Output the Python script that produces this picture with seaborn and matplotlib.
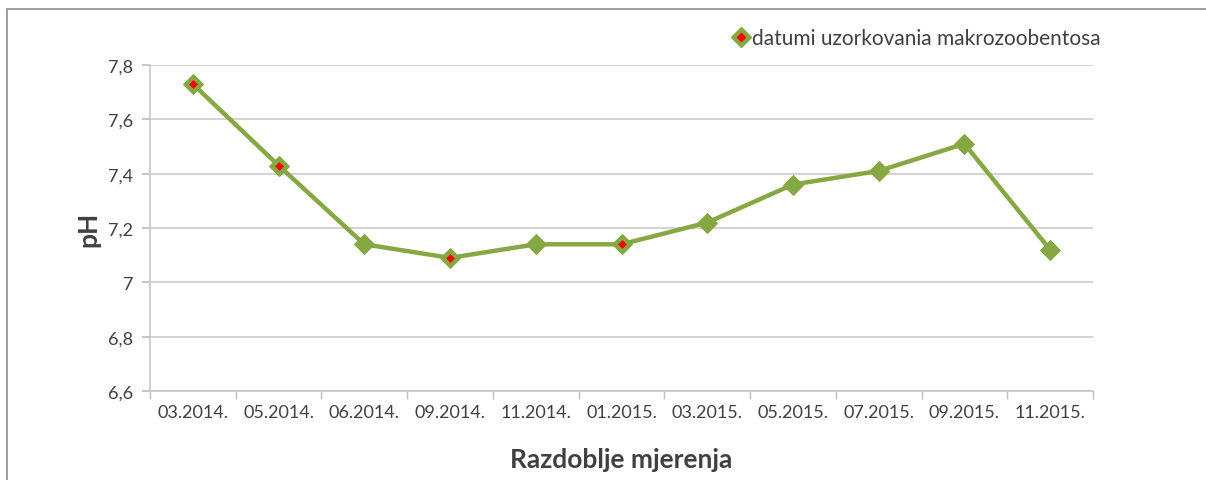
import matplotlib
matplotlib.use('Agg')
import matplotlib.pyplot as plt
import seaborn as sns
import pandas as pd
from matplotlib.patches import Rectangle
from matplotlib.lines import Line2D

# datumi mjerenja i pH vrijednosti
datumi = ['03.2014.', '05.2014.', '06.2014.', '09.2014.', '11.2014.', '01.2015.',
          '03.2015.', '05.2015.', '07.2015.', '09.2015.', '11.2015.']
ph = [7.73, 7.43, 7.14, 7.09, 7.14, 7.14, 7.22, 7.36, 7.41, 7.51, 7.12]
# indeksi datuma uzorkovanja makrozoobentosa (crvena tocka)
uzorkovanje = [0, 1, 3, 5]

sns.set_theme(style='white')
plt.rcParams['font.family'] = ['Lato', 'DejaVu Sans']

zelena = '#86a843'
tekst = '#404040'

df = pd.DataFrame({'datum': datumi, 'ph': ph})
df['x'] = range(len(df))

fig = plt.figure(figsize=(12.06, 4.81), dpi=100)
ax = fig.add_axes([150/1206, 1-392/481, (1093-150)/1206, (392-66)/481])

# okvir grafikona
fig.patches.append(Rectangle((7/1206, -0.1), 1.2, 1-10/481+0.1, transform=fig.transFigure,
                             fill=False, edgecolor='#8c8c8c', linewidth=1.2))

sns.lineplot(data=df, x='x', y='ph', ax=ax, color=zelena, linewidth=3.2,
             marker='D', markersize=10, markeredgecolor=zelena, markerfacecolor=zelena,
             zorder=3)
uz = df.iloc[uzorkovanje]
sns.scatterplot(data=uz, x='x', y='ph', ax=ax, color='red', marker='D', s=20,
                linewidth=0, zorder=4)

ax.set_xlim(-0.5, len(datumi) - 0.5)
ax.set_ylim(6.6, 7.8)
ax.set_yticks([6.6, 6.8, 7.0, 7.2, 7.4, 7.6, 7.8])
ax.set_yticklabels(['6,6', '6,8', '7', '7,2', '7,4', '7,6', '7,8'])
ax.set_xticks(df['x'])
ax.set_xticklabels(datumi)
ax.set_xticks([i - 0.5 for i in range(len(datumi) + 1)], minor=True)
ax.grid(axis='y', color='#d0d0d0', linewidth=1.3)
ax.set_axisbelow(True)

for s in ['top', 'right']:
    ax.spines[s].set_visible(False)
ax.spines['left'].set_color('#c8c8c8')
ax.spines['bottom'].set_color('#c8c8c8')

ax.tick_params(axis='x', which='major', length=0, pad=9, labelsize=13, labelcolor=tekst)
ax.tick_params(axis='x', which='minor', length=6, color='#bfbfbf', direction='out', bottom=True)
ax.tick_params(axis='y', length=6, color='#bfbfbf', left=True, pad=6, labelsize=13,
               labelcolor=tekst)

ax.set_xlabel('Razdoblje mjerenja', fontsize=19, fontweight='bold', color=tekst, labelpad=20)
ax.set_ylabel('pH', fontsize=19, fontweight='bold', color=tekst, labelpad=6)

# legenda
h_zel = Line2D([], [], marker='D', color=zelena, linestyle='none', markersize=10)
h_crv = Line2D([], [], marker='D', color='red', linestyle='none', markersize=4)
fig.legend(handles=[(h_zel, h_crv)], labels=['datumi uzorkovania makrozoobentosa'],
           loc='center left', bbox_to_anchor=(706/1206, 1-39/481), frameon=False,
           handletextpad=-0.3, handlelength=1.6, fontsize=15, labelcolor=tekst)

fig.savefig('out.png', dpi=100, facecolor='white')
